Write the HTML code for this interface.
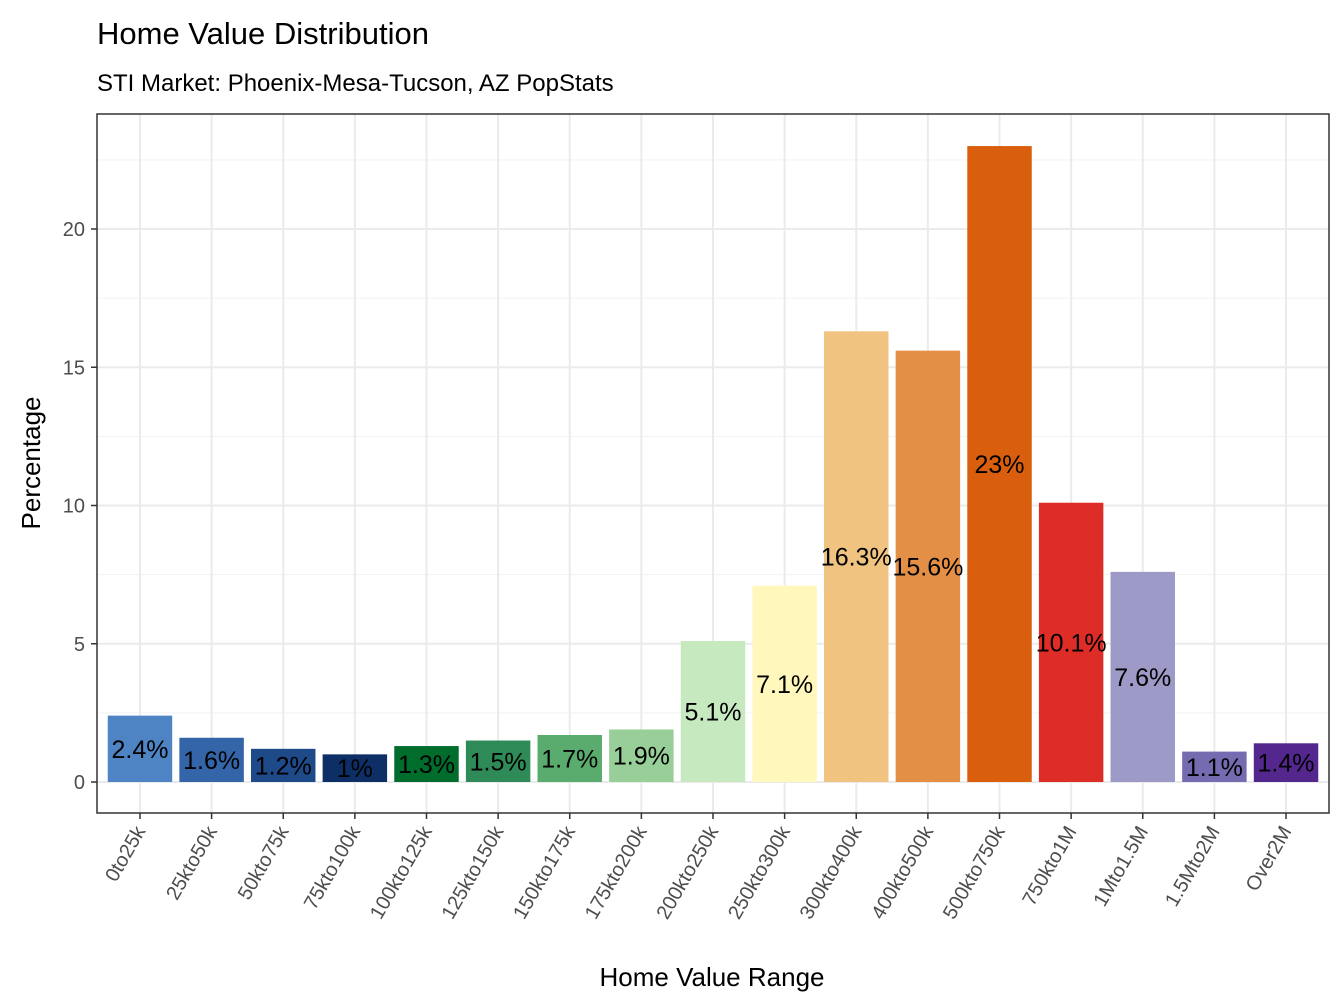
<!DOCTYPE html>
<html><head><meta charset="utf-8"><style>
body{margin:0;background:#fff}
svg{display:block;font-family:"Liberation Sans",Arial,sans-serif}
</style></head><body>
<svg id="chart" width="1344" height="1008" viewBox="0 0 1344 1008">
<text x="97" y="44" font-size="31" fill="#000">Home Value Distribution</text>
<text x="97" y="91" font-size="24" fill="#000">STI Market: Phoenix-Mesa-Tucson, AZ PopStats</text>
<g id="grid"></g>
<g id="bars"></g>
<g id="labels"></g>
<rect x="97" y="114" width="1232" height="699" fill="none" stroke="#333" stroke-width="1.5"/>
<g id="axes"></g>
<text x="712" y="986" font-size="26" text-anchor="middle" fill="#000">Home Value Range</text>
<text transform="translate(40,463) rotate(-90)" font-size="26" text-anchor="middle" fill="#000">Percentage</text>
</svg>
<script>
const categories=["0to25k","25kto50k","50kto75k","75kto100k","100kto125k","125kto150k","150kto175k","175kto200k","200kto250k","250kto300k","300kto400k","400kto500k","500kto750k","750kto1M","1Mto1.5M","1.5Mto2M","Over2M"];
const values=[2.4,1.6,1.2,1,1.3,1.5,1.7,1.9,5.1,7.1,16.3,15.6,23,10.1,7.6,1.1,1.4];
const valueLabels=["2.4%","1.6%","1.2%","1%","1.3%","1.5%","1.7%","1.9%","5.1%","7.1%","16.3%","15.6%","23%","10.1%","7.6%","1.1%","1.4%"];
const colors=["#4e84c4","#3465a8","#1f4a8a","#0e2f66","#006d2c","#2e8b57","#5aab6e","#98cf98","#c7e9c0","#fff7bc","#f0c381","#e39046","#d95f0e","#de2d26","#9e9ac8","#756bb1","#54278f"];
const yTicks=[0,5,10,15,20];
const NS="http://www.w3.org/2000/svg";
const px0=97,px1=1329,py0=114,py1=813;
const yScale=v=>782-v*27.65;
const step=(px1-px0)/(categories.length+0.2);
const xScale=i=>px0+step*(i+0.6);
const bw=step*0.9;
function mk(tag,attrs,parent){const e=document.createElementNS(NS,tag);for(const k in attrs)e.setAttribute(k,attrs[k]);parent.appendChild(e);return e;}
const grid=document.getElementById('grid'),bars=document.getElementById('bars'),labels=document.getElementById('labels'),axes=document.getElementById('axes');
mk('rect',{x:px0,y:py0,width:px1-px0,height:py1-py0,fill:'#fff'},grid);
for(let i=0;i<yTicks.length;i++){
  const m=yTicks[i]+2.5;const ym=yScale(m);
  if(ym>py0){const l=mk('line',{x1:px0,x2:px1,y1:ym,y2:ym,stroke:'#f2f2f2','stroke-width':1},grid);
  
  }
}
yTicks.forEach(t=>{const y=yScale(t);
  const l=mk('line',{x1:px0,x2:px1,y1:y,y2:y,stroke:'#ebebeb','stroke-width':2},grid);
  
  
  const tk=mk('line',{x1:px0-6,x2:px0,y1:y,y2:y,stroke:'#333','stroke-width':1.5},axes);
  
  
  const tx=mk('text',{x:px0-12,y:y+7,'font-size':20,'text-anchor':'end',fill:'#4d4d4d'},axes);
  tx.textContent=t;
  
  
});
categories.forEach((c,i)=>{const x=xScale(i);
  const l=mk('line',{x1:x,x2:x,y1:py0,y2:py1,stroke:'#ebebeb','stroke-width':2},grid);
  
  
  const y=yScale(values[i]);
  const b=mk('rect',{x:x-bw/2,y:y,width:bw,height:yScale(0)-y,fill:colors[i]},bars);
  
  
  const lb=mk('text',{x:x,y:yScale(values[i]/2)+9,'font-size':25,'text-anchor':'middle',fill:'#000'},labels);
  lb.textContent=valueLabels[i];
  
  
  const tk=mk('line',{x1:x,x2:x,y1:py1,y2:py1+6,stroke:'#333','stroke-width':1.5},axes);
  
  
  const tx=mk('text',{transform:`translate(${x+6},${py1+18}) rotate(-60)`,'font-size':20,'text-anchor':'end',fill:'#4d4d4d'},axes);
  tx.textContent=c;
  
  
});
</script>
</body></html>
